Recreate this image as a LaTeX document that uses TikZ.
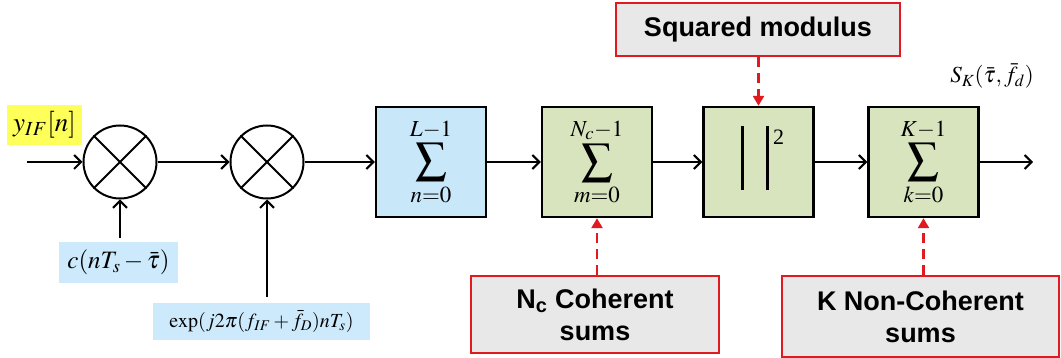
\documentclass[tikz,border=0pt]{standalone}
\usepackage{mathptmx}
\usepackage[no-math]{fontspec}
\setmainfont{Liberation Serif}
\setsansfont{Liberation Sans}
\usetikzlibrary{arrows.meta,calc}
\definecolor{boxblue}{RGB}{200,232,250}
\definecolor{boxgreen}{RGB}{215,228,189}
\definecolor{labblue}{RGB}{204,234,252}
\definecolor{labyellow}{RGB}{255,255,90}
\definecolor{notegray}{RGB}{232,232,232}
\definecolor{notered}{RGB}{225,25,32}
\tikzset{
  blk/.style={draw=black, line width=2.4pt, minimum width=110pt, minimum height=110pt, inner sep=0pt},
  mixer/.style={draw=black, line width=2pt, circle, minimum size=73pt, inner sep=0pt},
  sig/.style={line width=2pt, -{Straight Barb[length=7pt,width=14pt,line width=2pt]}},
  note/.style={draw=notered, fill=notegray, line width=2.4pt, inner sep=0pt,
    font=\sffamily\bfseries\fontsize{27}{32}\selectfont, align=center},
  notearrow/.style={draw=notered, line width=2.4pt, dash pattern=on 10pt off 6pt,
    -{Triangle[length=10pt,width=11pt]}},
  lab/.style={inner sep=0pt, font=\fontsize{25}{30}\selectfont},
  sumtxt/.style={font=\fontsize{31}{36}\selectfont}
}
\begin{document}
\begin{tikzpicture}[x=1pt,y=-1pt]
\useasboundingbox (0,0) rectangle (1061,358);
% mixers
\node[mixer] (c1) at (120,162) {};
\node[mixer] (c2) at (267,162) {};
\foreach \m in {c1,c2}{
  \draw[line width=2pt] (\m.45) -- (\m.225);
  \draw[line width=2pt] (\m.135) -- (\m.-45);
}
% blocks
\node[blk, fill=boxblue, sumtxt] (b1) at (431,162) {$\displaystyle\sum_{n=0}^{L-1}$};
\node[blk, fill=boxgreen, sumtxt] (b2) at (597,162) {$\displaystyle\sum_{m=0}^{N_c-1}$};
\node[blk, fill=boxgreen] (b3) at (758.5,162) {};
\node[blk, fill=boxgreen, sumtxt] (b4) at (923.5,162) {$\displaystyle\sum_{k=0}^{K-1}$};
% squared modulus symbol
\draw[line width=2.6pt] ($(b3)+(-16,-36)$) -- ($(b3)+(-16,28)$);
\draw[line width=2.6pt] ($(b3)+(9,-36)$) -- ($(b3)+(9,28)$);
\node[font=\fontsize{22}{26}\selectfont, inner sep=0pt] (sq2) at ($(b3)+(20,-25)$) {2};
% labels
\node[lab, fill=labyellow, minimum width=75pt, minimum height=40pt, font=\fontsize{27}{32}\selectfont] (yin) at (44.5,125) {$y_{IF}[n]$};
\node[lab, fill=labblue, minimum width=119pt, minimum height=41pt] (cl) at (118.5,262.5) {$c(nT_s-\bar{\tau})$};
\node[lab, fill=labblue, minimum width=217pt, minimum height=37pt, font=\fontsize{20}{24}\selectfont] (el) at (261.5,321.5) {$\exp(j2\pi(f_{IF}+\bar{f}_D)nT_s)$};
\node[lab, font=\fontsize{23}{28}\selectfont] (sk) at (992,76) {$S_K(\bar{\tau},\bar{f}_d)$};
% notes
\node[note, minimum width=284pt, minimum height=53pt] (sqm) at (758,29.5) {Squared modulus};
\node[note, minimum width=248pt, minimum height=77pt] (nc) at (595,314.5) {N\textsubscript{c} Coherent\\sums};
\node[note, minimum width=277pt, minimum height=81pt] (kn) at (920.5,316.5) {K Non-Coherent\\sums};
% signal flow
\coordinate (in) at (27,162);
\coordinate (out) at (1033,162);
\draw[sig] (in) -- (c1.west);
\draw[sig] (c1.east) -- (c2.west);
\draw[sig] (c2.east) -- (b1.west);
\draw[sig] (b1.east) -- (b2.west);
\draw[sig] (b2.east) -- (b3.west);
\draw[sig] (b3.east) -- (b4.west);
\draw[sig] (b4.east) -- (out);
\draw[sig, shorten <=4pt] (c1 |- cl.north) -- (c1.south);
\draw[sig, shorten <=6pt] (c2 |- el.north) -- (c2.south);
% note arrows
\draw[notearrow] (b3 |- sqm.south) -- (b3.north);
\draw[notearrow] (b2 |- nc.north) -- (b2.south);
\draw[notearrow] (b4 |- kn.north) -- (b4.south);
\end{tikzpicture}
\end{document}
